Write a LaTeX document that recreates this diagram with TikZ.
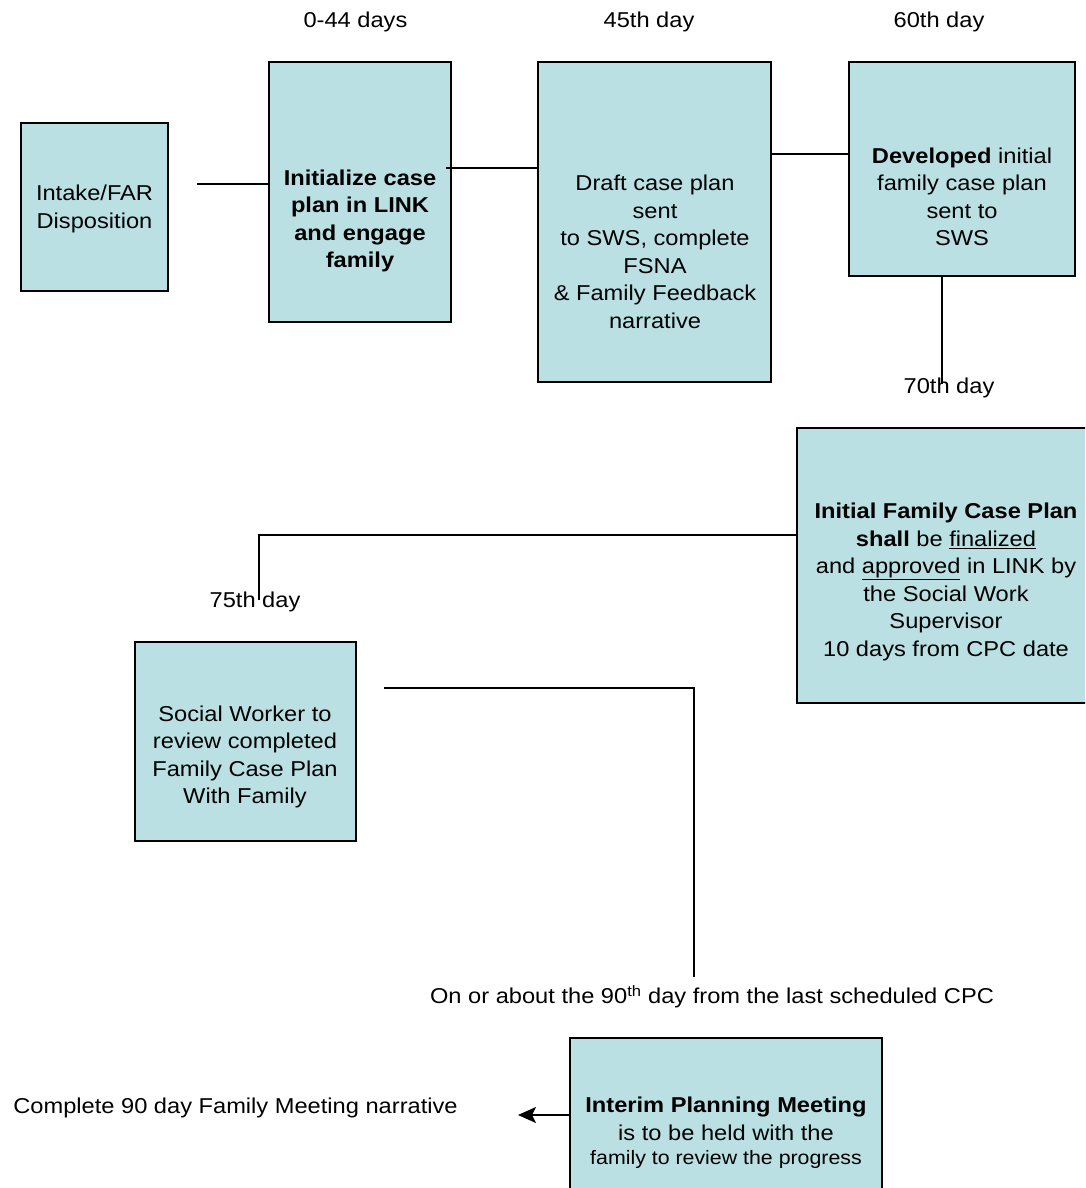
\documentclass[tikz,border=0pt]{standalone}
\usepackage{fontspec}
\setmainfont{Liberation Sans}[FakeStretch=1.1]
\usetikzlibrary{arrows.meta}
\definecolor{boxfill}{RGB}{186,224,227}
\begin{document}
\begin{tikzpicture}[x=1pt,y=-1pt,
  box/.style={draw=black, line width=2pt, fill=boxfill, inner sep=0pt},
  txt/.style={align=center, inner sep=0pt, font=\fontsize{21.5}{27.5}\selectfont},
  conn/.style={draw=black, line width=1.7pt}]
\useasboundingbox (0,0) rectangle (1085,1188);
\clip (0,0) rectangle (1085,1188);

% boxes
\node[box, minimum width=147pt, minimum height=168pt] (intake) at (94.5,207) {};
\node[box, minimum width=182pt, minimum height=260pt] (init) at (360,192) {};
\node[box, minimum width=233pt, minimum height=320pt] (draft) at (654.5,222) {};
\node[box, minimum width=226pt, minimum height=214pt] (dev) at (962,169) {};
\node[box, minimum width=298pt, minimum height=275pt] (final) at (946,565.5) {};
\node[box, minimum width=221pt, minimum height=199pt] (social) at (245.5,741.5) {};
\node[box, minimum width=312pt, minimum height=162pt] (interim) at (726,1119) {};

% box texts
\node[txt] (tintake) at (94.5,209) {Intake/FAR\\Disposition};
\node[txt, font=\fontsize{21.5}{27.5}\selectfont\bfseries] (tinit) at (360,221) {Initialize case\\plan in LINK\\and engage\\family};
\node[txt] (tdraft) at (655,252) {Draft case plan\\sent\\to SWS, complete\\FSNA\\\& Family Feedback\\narrative};
\node[txt] (tdev) at (962,197) {\textbf{Developed} initial\\family case plan\\sent to\\SWS};
\node[txt] (tfinal) at (946,582) {\textbf{Initial Family Case Plan}\\\textbf{shall} be \underline{finalized}\\and \underline{approved} in LINK by\\the Social Work\\Supervisor\\10 days from CPC date};
\node[txt] (tsocial) at (245,757) {Social Worker to\\review completed\\Family Case Plan\\With Family};
\node[txt] (tinterim) at (726,1133) {\textbf{Interim Planning Meeting}\\is to be held with the\\[-3pt]{\fontsize{19.4}{24}\selectfont family to review the progress}};

% labels
\node[txt] (l0) at (355.5,22) {0-44 days};
\node[txt] (l45) at (649,22) {45th day};
\node[txt] (l60) at (939,22) {60th day};
\node[txt] (l70) at (949,388) {70th day};
\node[txt] (l75) at (255,602) {75th day};
\node[txt] (l90) at (712,997) {On or about the 90\textsuperscript{th} day from the last scheduled CPC};
\node[txt] (lcomp) at (235.5,1108) {Complete 90 day Family Meeting narrative};

% connector coordinates
\coordinate (c1) at (197,184);
\coordinate (c2) at (446,168);
\coordinate (c3) at (0,154);
\coordinate (c4) at (942,384);
\coordinate (c5) at (259,600);
\coordinate (c5y) at (0,535);
\coordinate (c6) at (384,688);
\coordinate (c7) at (694,977);
\coordinate (c8) at (518,1115);

% connectors
\draw[conn] (c1) -- (c1 -| init.west);
\draw[conn] (c2) -- (c2 -| draft.west);
\draw[conn] (draft.east |- c3) -- (dev.west |- c3);
\draw[conn] (c4 |- dev.south) -- (c4);
\draw[conn] (final.west |- c5y) -- (c5 |- c5y) -- (c5);
\draw[conn] (c6) -- (c6 -| c7) -- (c7);
\draw[conn, -{Stealth[length=18pt,width=16pt,inset=4pt]}] (c8 -| interim.west) -- (c8);
\end{tikzpicture}
\end{document}
